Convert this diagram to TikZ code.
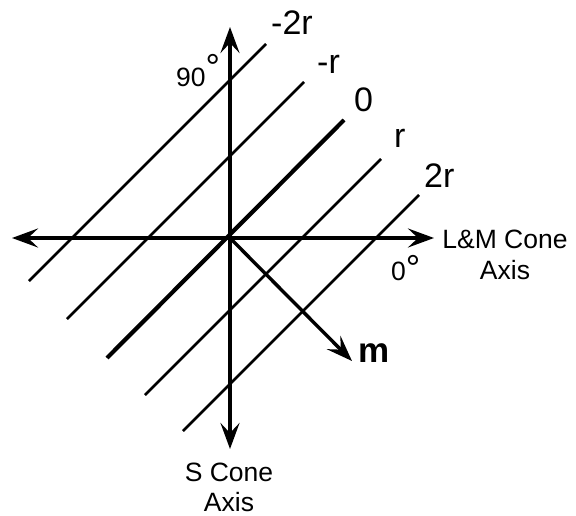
\documentclass[tikz,border=0pt]{standalone}
\usepackage{fontspec}
\setmainfont{Liberation Sans}
\usetikzlibrary{arrows.meta}
\begin{document}
\begin{tikzpicture}[x=1pt,y=-1pt,
  axisline/.style={line width=3.4pt},
  isoline/.style={line width=2.6pt},
  zeroline/.style={line width=4.2pt},
  biglbl/.style={inner sep=0pt, anchor=base west, font=\fontsize{34}{34}\selectfont},
  smalllbl/.style={inner sep=0pt, anchor=base, font=\fontsize{26.5}{26.5}\selectfont},
]
\useasboundingbox (0,0) rectangle (576,516);
% iso lines
\coordinate (a1) at (29,281);  \coordinate (b1) at (266,44);
\coordinate (a2) at (67,319);  \coordinate (b2) at (304,82);
\coordinate (a3) at (107,358); \coordinate (b3) at (344,120);
\coordinate (a4) at (145,395); \coordinate (b4) at (381,159);
\coordinate (a5) at (183,431); \coordinate (b5) at (419,195);
\draw[isoline] (a1) -- (b1);
\draw[isoline] (a2) -- (b2);
\draw[zeroline] (a3) -- (b3);
\draw[isoline] (a4) -- (b4);
\draw[isoline] (a5) -- (b5);
% axes
\coordinate (O) at (230,238);
\coordinate (W) at (12,238);
\coordinate (E) at (434,238);
\coordinate (N) at (230,27);
\coordinate (S) at (230,449);
\coordinate (M) at (352,361);
\draw[axisline, {Stealth[length=26pt,width=19pt,inset=10pt]}-{Stealth[length=26pt,width=19pt,inset=10pt]}] (W) -- (E);
\draw[axisline, {Stealth[length=26pt,width=19pt,inset=10pt]}-{Stealth[length=26pt,width=19pt,inset=10pt]}] (N) -- (S);
\draw[axisline, -{Stealth[length=26pt,width=19pt,inset=10pt]}] (O) -- (M);
% labels
\node[biglbl] (lm2) at (271,35) {-2r};
\node[biglbl] (lm1) at (317,74) {-r};
\node[biglbl] (l0) at (354,112) {0};
\node[biglbl] (l1) at (394,148) {r};
\node[biglbl] (l2) at (424,187) {2r};
\node[smalllbl, anchor=base west] (d90) at (176,87) {90\raisebox{7pt}{\fontsize{36}{36}\selectfont °}};
\node[smalllbl, anchor=base west] (d0) at (391,280) {0\raisebox{0pt}{\fontsize{36}{36}\selectfont °}};
\node[smalllbl] (lm) at (505,248) {L\&M Cone};
\node[smalllbl] (lma) at (505,279) {Axis};
\node[smalllbl] (sc) at (229,481) {S Cone};
\node[smalllbl] (sca) at (229,511) {Axis};
\node[inner sep=0pt, anchor=base west, font=\fontsize{35}{35}\selectfont\bfseries] (m) at (358,362) {m};
\end{tikzpicture}
\end{document}
